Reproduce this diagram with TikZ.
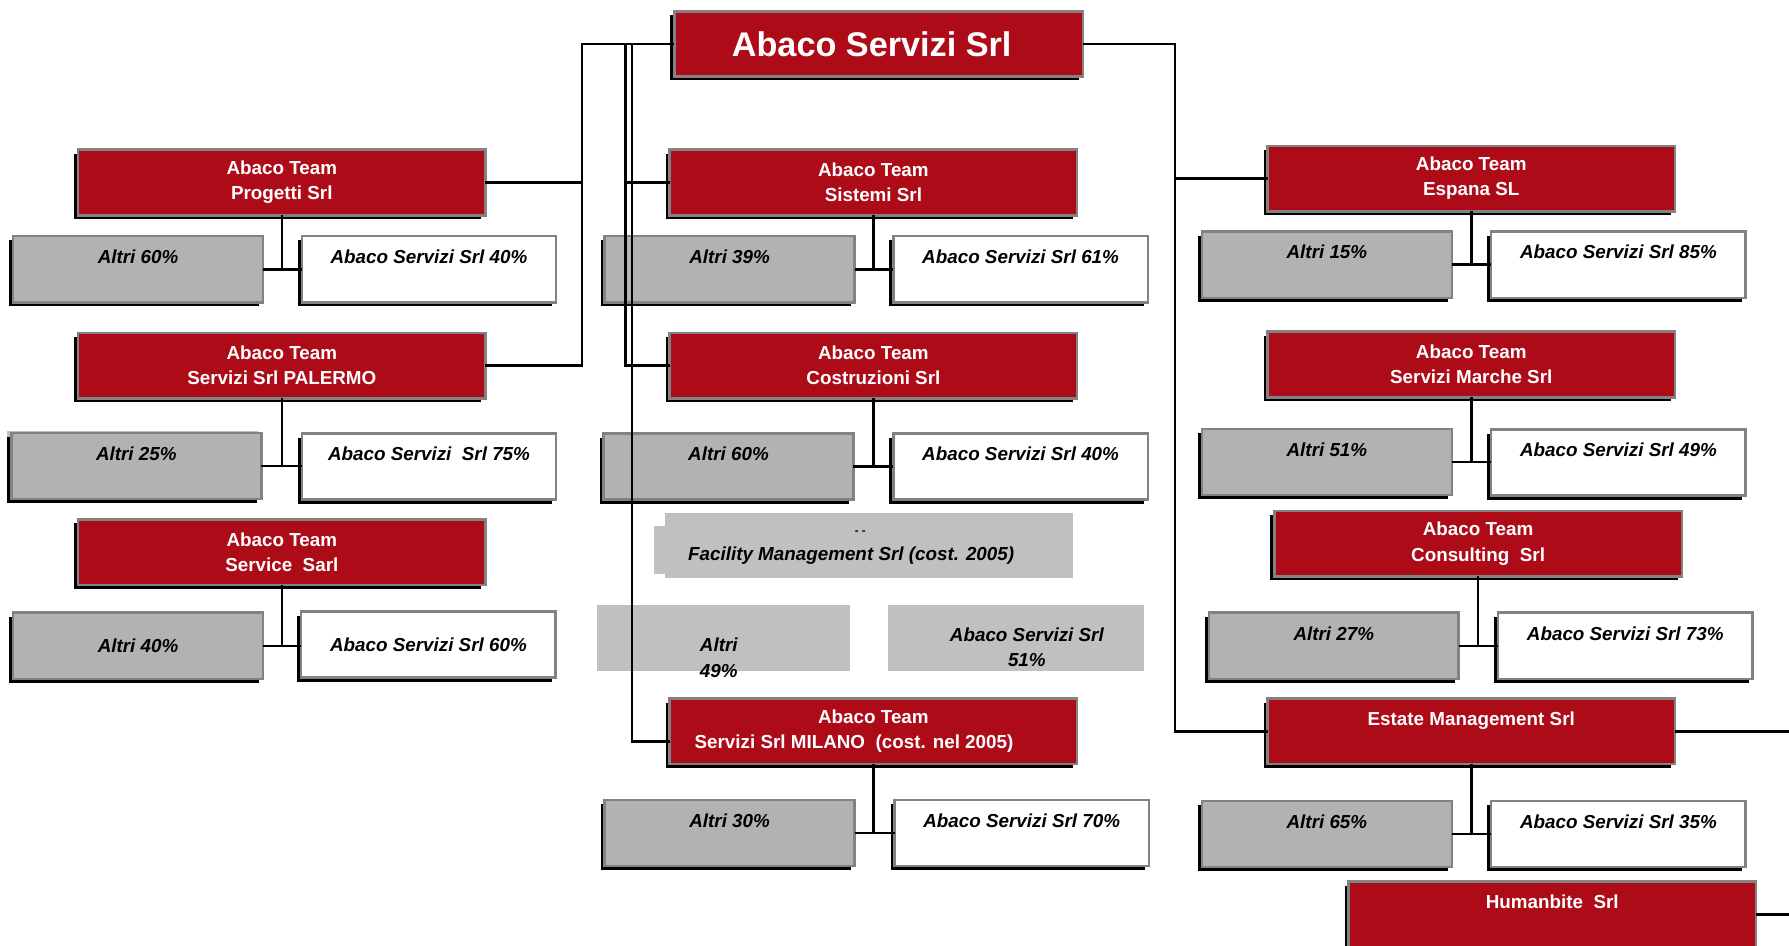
\documentclass[tikz,border=0pt]{standalone}
\usepackage{fontspec}
\setmainfont{Liberation Sans}
\usetikzlibrary{shadows}
\definecolor{abred}{RGB}{174,11,24}
\definecolor{abgrey}{RGB}{178,178,178}
\definecolor{abframe}{RGB}{130,130,130}
\definecolor{abfade}{RGB}{192,192,192}
\begin{document}
\begin{tikzpicture}[x=0.5pt,y=-0.5pt,
  base/.style={draw=abframe, line width=1.1pt, inner sep=0pt, outer sep=0pt,
    general shadow={fill=black, shadow xshift=-1.75pt, shadow yshift=-1.75pt},
    align=center},
  redbox/.style={base, fill=abred, text=white, minimum width=178.5pt, minimum height=28.75pt,
    font=\fontsize{8.25pt}{11pt}\selectfont\bfseries},
  altri/.style={base, fill=abgrey, minimum width=109.5pt, minimum height=29pt,
    font=\fontsize{8.25pt}{11pt}\selectfont\bfseries\itshape},
  own/.style={base, fill=white, minimum width=111.5pt, minimum height=29pt,
    font=\fontsize{8.25pt}{11pt}\selectfont\bfseries\itshape},
  fadetext/.style={align=center, inner sep=0pt, font=\fontsize{8.25pt}{11pt}\selectfont\bfseries\itshape},
  conn/.style={line width=1.1pt, black}
]
\useasboundingbox (0,0) rectangle (1568,829);

% faded boxes
\fill[abfade] (583,450) rectangle (940,507);
\fill[abfade] (573,461) rectangle (590,503);
\fill[abfade] (523,530) rectangle (745,588);
\fill[abfade] (778,530) rectangle (1003,588);
\node[fadetext, font=\fontsize{5pt}{6pt}\selectfont\bfseries] (dd) at (754,467) {- -};
\node[fadetext] (fm) at (746,487) {Facility Management Srl (cost. 2005)};
\node[fadetext] (fa) at (630,576.5) {Altri\\49\%};
\node[fadetext] (fw) at (900,567) {Abaco Servizi Srl\\51\%};

% odd light strip behind Altri 25%
\fill[abfade] (6,378) rectangle (226,435);

% main
\node[redbox, font=\fontsize{15pt}{18pt}\selectfont\bfseries, minimum width=179pt, minimum height=28.5pt] (main) at (770,38.5) {Abaco Servizi Srl\hspace*{6pt}};

% left column
\node[redbox] (prog) at (247,160) {Abaco Team\\Progetti Srl};
\node[altri] (a1) at (121,236) {Altri 60\%\\\mbox{}};
\node[own] (w1) at (376,236) {Abaco Servizi Srl 40\%\\\mbox{}};
\node[redbox] (pal) at (247,320.5) {Abaco Team\\Servizi Srl PALERMO};
\node[altri] (a2) at (119.5,408.5) {Altri 25\%\\\mbox{}};
\node[own] (w2) at (376,409) {Abaco Servizi\ \ Srl 75\%\\\mbox{}};
\node[redbox] (serv) at (247,484) {Abaco Team\\Service\ \ Sarl};
\node[altri] (a3) at (121,566) {Altri 40\%};
\node[own] (w3) at (375.5,565) {Abaco Servizi Srl 60\%};

% middle column
\node[redbox] (sist) at (765.5,160) {Abaco Team\\Sistemi Srl};
\node[altri] (a4) at (639.5,236) {Altri 39\%\\\mbox{}};
\node[own] (w4) at (894.5,236) {Abaco Servizi Srl 61\%\\\mbox{}};
\node[redbox] (costr) at (765.5,320.5) {Abaco Team\\Costruzioni Srl};
\node[altri] (a5) at (638.5,409) {Altri 60\%\\\mbox{}};
\node[own] (w5) at (894.5,409) {Abaco Servizi Srl 40\%\\\mbox{}};
\node[redbox] (mil) at (765.5,641) {Abaco Team\\Servizi Srl MILANO\ \ (cost. nel 2005)\hspace*{17pt}};
\node[altri] (a6) at (639.5,730) {Altri 30\%\\\mbox{}};
\node[own] (w6) at (895.5,730) {Abaco Servizi Srl 70\%\\\mbox{}};

% right column
\node[redbox] (esp) at (1289.5,156.5) {Abaco Team\\Espana SL};
\node[altri] (a7) at (1163,232) {Altri 15\%\\\mbox{}};
\node[own] (w7) at (1418.5,232) {Abaco Servizi Srl 85\%\\\mbox{}};
\node[redbox] (mar) at (1289.5,319.5) {Abaco Team\\Servizi Marche Srl};
\node[altri] (a8) at (1163,405) {Altri 51\%\\\mbox{}};
\node[own] (w8) at (1418.5,405.5) {Abaco Servizi Srl 49\%\\\mbox{}};
\node[redbox] (cons) at (1295.5,476.5) {Abaco Team\\Consulting\ \ Srl};
\node[altri] (a9) at (1169,566) {Altri 27\%\\\mbox{}};
\node[own] (w9) at (1424.5,566) {Abaco Servizi Srl 73\%\\\mbox{}};
\node[redbox] (est) at (1289.5,641) {Estate Management Srl\\\mbox{}};
\node[altri] (a10) at (1163,731) {Altri 65\%\\\mbox{}};
\node[own] (w10) at (1418.5,731) {Abaco Servizi Srl 35\%\\\mbox{}};
\node[redbox] (hum) at (1360.5,801.5) {Humanbite\ \ Srl\\\mbox{}};

% junction coordinates
\coordinate (jL) at (510,38.5);
\coordinate (jM1) at (548,38.5);
\coordinate (jM2) at (554,38.5);
\coordinate (jR) at (1030,38.5);
\coordinate (mily) at (0,650);
\coordinate (edgeR) at (1568,0);

% main connectors
\draw[conn] (main.west) -- (jL) |- (pal.east);
\draw[conn] (prog.east) -- (prog.east -| jL);
\draw[conn] (jM1) |- (costr.west);
\draw[conn] (sist.west) -- (sist.west -| jM1);
\draw[conn] (jM2) |- (mil.west |- mily);
\draw[conn] (main.east) -- (jR) |- (est.west);
\draw[conn] (esp.west) -- (esp.west -| jR);
\draw[conn] (est.east) -- (est.east -| edgeR);
\draw[conn] (hum.east) -- (hum.east -| edgeR);

% ownership connectors
\foreach \p/\a/\w in {prog/a1/w1, pal/a2/w2, serv/a3/w3, sist/a4/w4, costr/a5/w5, mil/a6/w6, esp/a7/w7, mar/a8/w8, cons/a9/w9, est/a10/w10} {
  \draw[conn] (\p.south) -- (\p.south |- \a.east);
  \draw[conn] (\a.east) -- (\a.east -| \w.west);
}
\end{tikzpicture}
\end{document}
